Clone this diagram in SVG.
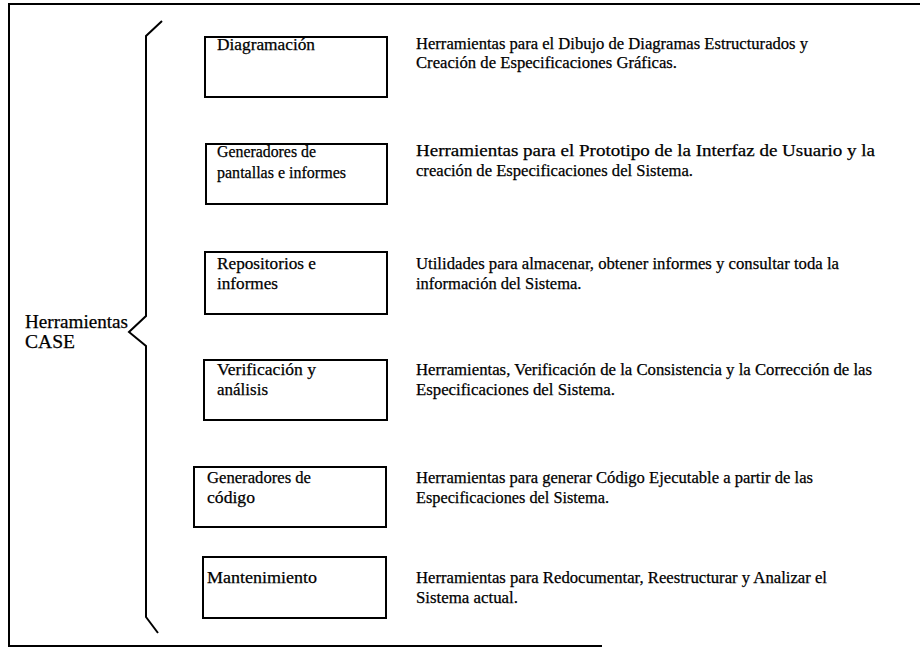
<svg xmlns="http://www.w3.org/2000/svg" width="920" height="649" viewBox="0 0 920 649">
<style>
.frame{fill:none;stroke:#000;stroke-width:2}
.box{fill:#fff;stroke:#000;stroke-width:2}
.lbl,.desc,.main{font-family:"Liberation Serif","Times New Roman",serif;fill:#000;stroke:#000;stroke-width:0.25}
.lbl{font-size:16.5px}
.desc{font-size:16.5px}
.main{font-size:19px}
</style>
<rect width="920" height="649" fill="#fff"/>
<g id="frame">
<line class="frame" x1="9" y1="4" x2="920" y2="4" stroke-width="2.5"/>
<line class="frame" x1="9" y1="3" x2="9" y2="647"/>
<line class="frame" x1="8" y1="646" x2="602" y2="646"/>
</g>
<g id="connectors">
<path class="frame" d="M162,21 L146,36 L146,316 L129,332 L146,346 L146,617 L158,633"/>
</g>
<g id="root">
<text class="main" x="25" y="328" textLength="103" lengthAdjust="spacingAndGlyphs">Herramientas</text>
<text class="main" x="25" y="348" textLength="50" lengthAdjust="spacingAndGlyphs">CASE</text>
</g>
<g id="n1">
<rect class="box" x="205" y="37" width="182" height="60"/>
<text class="lbl" x="217" y="50" textLength="98" lengthAdjust="spacingAndGlyphs">Diagramación</text>
<text class="desc" x="416" y="49" textLength="392" lengthAdjust="spacingAndGlyphs">Herramientas para el Dibujo de Diagramas Estructurados y</text>
<text class="desc" x="416" y="68" textLength="261" lengthAdjust="spacingAndGlyphs">Creación de Especificaciones Gráficas.</text>
</g>
<g id="n2">
<rect class="box" x="206" y="144" width="181" height="60"/>
<text class="lbl" x="217" y="157" textLength="99" lengthAdjust="spacingAndGlyphs">Generadores de</text>
<text class="lbl" x="217" y="178" textLength="129" lengthAdjust="spacingAndGlyphs">pantallas e informes</text>
<text class="desc" x="416" y="156" style="font-size:17px" textLength="459" lengthAdjust="spacingAndGlyphs">Herramientas para el Prototipo de la Interfaz de Usuario y la</text>
<text class="desc" x="416" y="176" textLength="277" lengthAdjust="spacingAndGlyphs">creación de Especificaciones del Sistema.</text>
</g>
<g id="n3">
<rect class="box" x="205" y="252" width="182" height="62"/>
<text class="lbl" x="217" y="269" textLength="99" lengthAdjust="spacingAndGlyphs">Repositorios e</text>
<text class="lbl" x="217" y="289" textLength="61" lengthAdjust="spacingAndGlyphs">informes</text>
<text class="desc" x="416" y="269" textLength="423" lengthAdjust="spacingAndGlyphs">Utilidades para almacenar, obtener informes y consultar toda la</text>
<text class="desc" x="416" y="289">información del Sistema.</text>
</g>
<g id="n4">
<rect class="box" x="204" y="360" width="183" height="60"/>
<text class="lbl" x="217" y="375" textLength="99" lengthAdjust="spacingAndGlyphs">Verificación y</text>
<text class="lbl" x="217" y="395" textLength="51" lengthAdjust="spacingAndGlyphs">análisis</text>
<text class="desc" x="416" y="375" textLength="456" lengthAdjust="spacingAndGlyphs">Herramientas, Verificación de la Consistencia y la Corrección de las</text>
<text class="desc" x="416" y="395" textLength="199" lengthAdjust="spacingAndGlyphs">Especificaciones  del Sistema.</text>
</g>
<g id="n5">
<rect class="box" x="194" y="467" width="192" height="60"/>
<text class="lbl" x="207" y="483" textLength="104" lengthAdjust="spacingAndGlyphs">Generadores de</text>
<text class="lbl" x="207" y="503" textLength="48" lengthAdjust="spacingAndGlyphs">código</text>
<text class="desc" x="416" y="483" textLength="397" lengthAdjust="spacingAndGlyphs">Herramientas para generar Código Ejecutable a partir de las</text>
<text class="desc" x="416" y="503" textLength="193" lengthAdjust="spacingAndGlyphs">Especificaciones del Sistema.</text>
</g>
<g id="n6">
<rect class="box" x="203" y="557" width="183" height="61"/>
<text class="lbl" x="207" y="583" textLength="110" lengthAdjust="spacingAndGlyphs">Mantenimiento</text>
<text class="desc" x="416" y="583" textLength="411" lengthAdjust="spacingAndGlyphs">Herramientas para Redocumentar, Reestructurar y Analizar el</text>
<text class="desc" x="416" y="603" textLength="102" lengthAdjust="spacingAndGlyphs">Sistema actual.</text>
</g>
</svg>
